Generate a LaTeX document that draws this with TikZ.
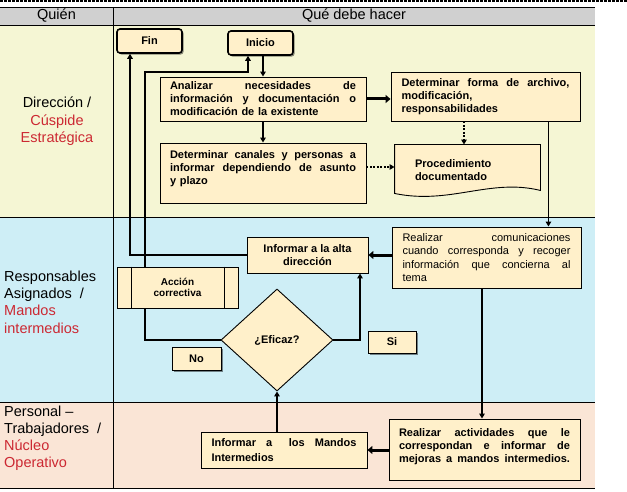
\documentclass[tikz,border=0pt]{standalone}
\usepackage{fontspec}
\setmainfont{Liberation Sans}
\usetikzlibrary{arrows.meta,shapes.geometric,shadows}
\definecolor{hdr}{RGB}{208,208,208}
\definecolor{rowA}{RGB}{245,246,212}
\definecolor{rowB}{RGB}{206,238,246}
\definecolor{rowC}{RGB}{250,229,214}
\definecolor{boxfill}{RGB}{255,240,202}
\definecolor{lblred}{RGB}{204,40,50}
\pgfdeclarelayer{back}
\pgfdeclarelayer{conn}
\pgfsetlayers{back,conn,main}
\newcommand\jl[2]{\leavevmode\hbox to #1{\spaceskip=0.278em plus 1fil\relax\xspaceskip=\spaceskip #2}}
\tikzset{
  box/.style={draw=black, line width=0.9pt, fill=boxfill, inner ysep=0pt, align=left,
    font=\fontsize{11}{13}\selectfont\bfseries},
  cbox/.style={box, align=center, inner xsep=0pt},
  shad/.style={drop shadow={shadow xshift=1.6pt, shadow yshift=-1.6pt, fill=black, opacity=0.45}},
  term/.style={cbox, rounded corners=3pt, line width=1.6pt, shad, minimum width=65pt, minimum height=24pt},
  tline/.style={line width=0.9pt, draw=black},
  arr/.style={line width=1.8pt, -{Triangle[length=5pt,width=5.5pt]}},
  bigarr/.style={line width=3pt, -{Triangle[length=5pt,width=8pt]}},
  dotarr/.style={line width=2pt, dash pattern=on 2pt off 1.5pt, -{Triangle[length=5pt,width=5.5pt]}},
  lbl/.style={inner sep=0pt, font=\fontsize{14.5}{17.4}\selectfont},
}
\begin{document}
\begin{tikzpicture}[x=1pt,y=-1pt]
\useasboundingbox (0,0) rectangle (627,492);

% ---------- table ----------
\begin{pgfonlayer}{back}
  \fill[white] (0,0) rectangle (627,492);
  \fill[hdr]  (0,7)   rectangle (595,25);
  \fill[rowA] (0,25)  rectangle (595,217);
  \fill[rowB] (0,217) rectangle (595,402);
  \fill[rowC] (0,402) rectangle (595,488);
  \draw[line width=2pt, dash pattern=on 2.5pt off 1.5pt] (0,1.5) -- (627,1.5);
  \draw[tline] (0,7) -- (595,7);
  \draw[tline] (0,25) -- (595,25);
  \draw[tline] (0,217) -- (595,217);
  \draw[tline] (0,402) -- (595,402);
  \draw[tline] (0,488) -- (595,488);
  \draw[tline] (113,7) -- (113,488);
\end{pgfonlayer}

\node[lbl] (quien) at (56.5,16) {Quién};
\node[lbl] (que) at (354,16) {Qué debe hacer};

\node[lbl, align=center] (r1) at (57,121.5)
  {Dirección /\\\textcolor{lblred}{Cúspide}\\\textcolor{lblred}{Estratégica}};
\node[lbl, align=left, anchor=west] (r2) at (4,302)
  {Responsables\\Asignados\ \ /\\\textcolor{lblred}{Mandos}\\\textcolor{lblred}{intermedios}};
\node[lbl, align=left, anchor=west, font=\fontsize{14.5}{17}\selectfont] (r3) at (4,438.5)
  {Personal –\\Trabajadores\ \ /\\\textcolor{lblred}{Núcleo}\\\textcolor{lblred}{Operativo}};

% ---------- boxes ----------
\node[term] (fin) at (149.5,41) {Fin};
\node[term] (inicio) at (260.5,43) {Inicio};

\node[box, text width=186pt, inner xsep=10pt, minimum height=44pt] (analizar) at (263,99)
  {\jl{186pt}{Analizar necesidades de}\\\jl{186pt}{información y documentación o}\\modificación de la existente};

\node[box, text width=186pt, inner xsep=10pt, minimum height=60pt] (canales) at (263,173)
  {\jl{186pt}{Determinar canales y personas a}\\\jl{186pt}{informar dependiendo de asunto}\\y plazo\rule[-11pt]{0pt}{11pt}};

\node[box, text width=168pt, inner xsep=10.5pt, minimum height=49pt] (forma) at (485.5,96.5)
  {\jl{168pt}{Determinar forma de archivo,}\\modificación,\\responsabilidades};

\node[box, draw=none, fill=none, text width=105pt, inner xsep=20pt, minimum height=50pt] (doc) at (467.5,170)
  {Procedimiento\\documentado};

\node[box, text width=168pt, inner xsep=10.5pt, minimum height=61pt, font=\fontsize{11}{13.3}\selectfont] (realcom) at (486.5,257.5)
  {\jl{168pt}{Realizar comunicaciones}\\\jl{168pt}{cuando corresponda y recoger}\\\jl{168pt}{información que concierna al}\\tema};

\node[cbox, minimum width=121pt, minimum height=36pt] (infalta) at (307.5,255)
  {Informar a la alta\\dirección};

\node[cbox, minimum width=121pt, minimum height=41pt, font=\fontsize{10}{11.5}\selectfont\bfseries] (acc) at (177.5,287.5)
  {Acción\\correctiva};
\draw[line width=0.9pt] ([xshift=15pt]acc.north west) -- ([xshift=15pt]acc.south west);
\draw[line width=0.9pt] ([xshift=-14pt]acc.north east) -- ([xshift=-14pt]acc.south east);

\node[cbox, diamond, shape aspect=1.1, minimum width=112pt, minimum height=102pt] (eficaz) at (277,340) {¿Eficaz?};

\node[cbox, shad, minimum width=49pt, minimum height=23pt] (no) at (196.5,358.5) {No};
\node[cbox, shad, minimum width=48pt, minimum height=22pt] (si) at (392,342) {Si};

\node[box, text width=171pt, inner xsep=10pt, minimum height=61pt, font=\fontsize{11}{12.6}\selectfont\bfseries] (realact) at (484.5,449.5)
  {\jl{171pt}{Realizar actividades que le}\\\jl{171pt}{correspondan e informar de}\\\jl{171pt}{mejoras a mandos intermedios.}\rule[-8pt]{0pt}{8pt}};

\node[box, text width=145pt, inner xsep=10.5pt, minimum height=36pt, font=\fontsize{11}{14.5}\selectfont\bfseries] (infm) at (284,450)
  {\leavevmode\hbox to 145pt{Informar\hfil\ a\hfil\hfil\ los\hfil\ Mandos}\\Intermedios};

% ---------- connectors ----------
\begin{pgfonlayer}{conn}
  \draw[line width=0.9pt, fill=boxfill] (doc.north west) -- (doc.north east) -- ([yshift=5pt]doc.south east)
     .. controls (490,178) and (450,205) .. ([yshift=2pt]doc.south west) -- cycle;

  \draw[arr] (inicio.south -| analizar.north) -- (analizar.north);
  \draw[arr] (analizar.south) -- (canales.north);
  \draw[bigarr] (analizar.east) -- (analizar.east -| forma.west);
  \coordinate (d1) at ([xshift=-3.5pt]doc.north);
  \draw[dotarr] (d1 |- forma.south) -- (d1);
  \coordinate (c1) at ([yshift=6pt]canales.east);
  \draw[dotarr] (c1) -- (c1 -| doc.west);
  \coordinate (f1) at ([xshift=-32pt]forma.south east);
  \draw[arr] (f1) -- (f1 |- realcom.north);
  \draw[bigarr] (infalta.east -| realcom.west) -- (infalta.east);
  \coordinate (fx) at ([xshift=-19.5pt]fin.south);
  \draw[arr] (infalta.west) -| (fx);
  \coordinate (ix) at ([xshift=-12.5pt]inicio.south);
  \coordinate (bend) at (145,72);
  \draw[arr] (eficaz.west) -| (bend) -| (ix);
  \coordinate (sx) at ([xshift=52.5pt]infalta.south);
  \draw[arr] (eficaz.east) -| (sx);
  \coordinate (rc) at ([xshift=-4.5pt]realcom.south);
  \draw[arr] (rc) -- (rc |- realact.north);
  \draw[bigarr] (realact.west |- infm.east) -- (infm.east);
  \draw[arr] (eficaz.south |- infm.north) -- (eficaz.south);
\end{pgfonlayer}
\end{tikzpicture}
\end{document}
